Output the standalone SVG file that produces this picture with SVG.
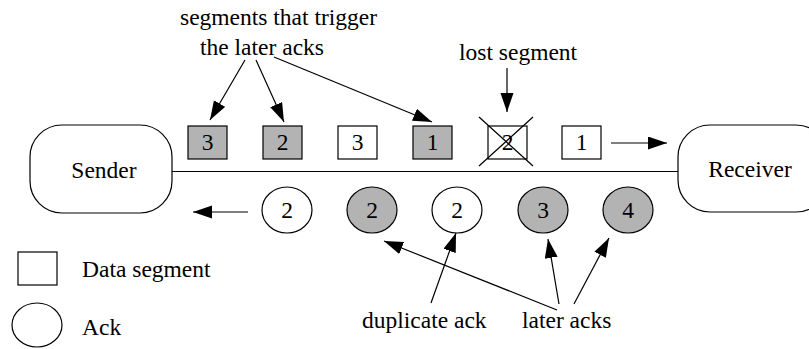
<svg xmlns="http://www.w3.org/2000/svg" width="809" height="349" viewBox="0 0 809 349">
<style>
text{font-family:'Liberation Serif','Times New Roman',serif;font-size:23.5px;fill:#000}
.c{text-anchor:middle}
.box{fill:#fff;stroke:#000;stroke-width:1.2}
.seg{stroke:#000;stroke-width:1.2}
.w{fill:#fff}
.g{fill:#b3b3b3}
.ln{stroke:#000;stroke-width:1.2;fill:none}
.ar{stroke:#000;stroke-width:1.2;fill:none;marker-end:url(#ah)}
</style>
<defs>
<marker id="ah" markerUnits="userSpaceOnUse" markerWidth="20" markerHeight="14" refX="19" refY="6.5" orient="auto">
<path d="M0,0 L19,6.5 L0,13 z" fill="#000"/>
</marker>
</defs>
<g id="sender"><rect class="box" x="30" y="125" width="142" height="88" rx="32" ry="32"/><text class="c" x="104" y="178">Sender</text></g>
<g id="receiver"><rect class="box" x="678" y="125" width="150" height="87" rx="32" ry="32"/><text class="c" x="750" y="177">Receiver</text></g>
<g id="seg3a"><rect class="seg g" x="188" y="126" width="39" height="33"/><text class="c" x="207.5" y="150">3</text></g>
<g id="seg2a"><rect class="seg g" x="263" y="126" width="39" height="33"/><text class="c" x="282.5" y="150">2</text></g>
<g id="seg3b"><rect class="seg w" x="338" y="126" width="39" height="33"/><text class="c" x="357.5" y="150">3</text></g>
<g id="seg1a"><rect class="seg g" x="413" y="126" width="39" height="33"/><text class="c" x="432.5" y="150">1</text></g>
<g id="seg2lost"><rect class="seg w" x="488" y="126" width="39" height="33"/><text class="c" x="507.5" y="150">2</text><path class="ln" d="M479,117 L533,166 M479,166 L533,117"/></g>
<g id="seg1b"><rect class="seg w" x="562" y="126" width="39" height="33"/><text class="c" x="581.5" y="150">1</text></g>
<g id="ack2a"><ellipse class="seg w" cx="287" cy="210" rx="25" ry="23"/><text class="c" x="287" y="218">2</text></g>
<g id="ack2b"><ellipse class="seg g" cx="372" cy="210" rx="25" ry="23"/><text class="c" x="372" y="218">2</text></g>
<g id="ack2c"><ellipse class="seg w" cx="457" cy="210" rx="25" ry="23"/><text class="c" x="457" y="218">2</text></g>
<g id="ack3"><ellipse class="seg g" cx="543" cy="210" rx="25" ry="23"/><text class="c" x="543" y="218">3</text></g>
<g id="ack4"><ellipse class="seg g" cx="628" cy="210" rx="25" ry="23"/><text class="c" x="628" y="218">4</text></g>
<g id="legend-seg"><rect class="seg w" x="18" y="252" width="39" height="33"/><text x="82" y="277">Data segment</text></g>
<g id="legend-ack"><ellipse class="seg w" cx="37" cy="325" rx="25" ry="22"/><text x="82" y="335">Ack</text></g>
<g id="labels">
<text x="180" y="25">segments that trigger</text>
<text x="200" y="55">the later acks</text>
<text x="459" y="60">lost segment</text>
<text x="362" y="328">duplicate ack</text>
<text x="522" y="328">later acks</text>
</g>
<g id="connectors">
<line class="ln" x1="172" y1="171.5" x2="678" y2="171.5"/>
<line class="ar" x1="611" y1="143" x2="667" y2="143"/>
<line class="ar" x1="248" y1="212" x2="193" y2="212"/>
<line class="ar" x1="245" y1="60" x2="210" y2="120"/>
<line class="ar" x1="256" y1="60" x2="284" y2="122"/>
<line class="ar" x1="274" y1="57" x2="432" y2="122"/>
<line class="ar" x1="507" y1="68" x2="507" y2="112"/>
<line class="ar" x1="431" y1="303" x2="456" y2="233"/>
<line class="ar" x1="559" y1="304" x2="548" y2="239"/>
<line class="ar" x1="574" y1="304" x2="609" y2="238"/>
<line class="ar" x1="557" y1="310" x2="384" y2="241"/>
</g>
</svg>
